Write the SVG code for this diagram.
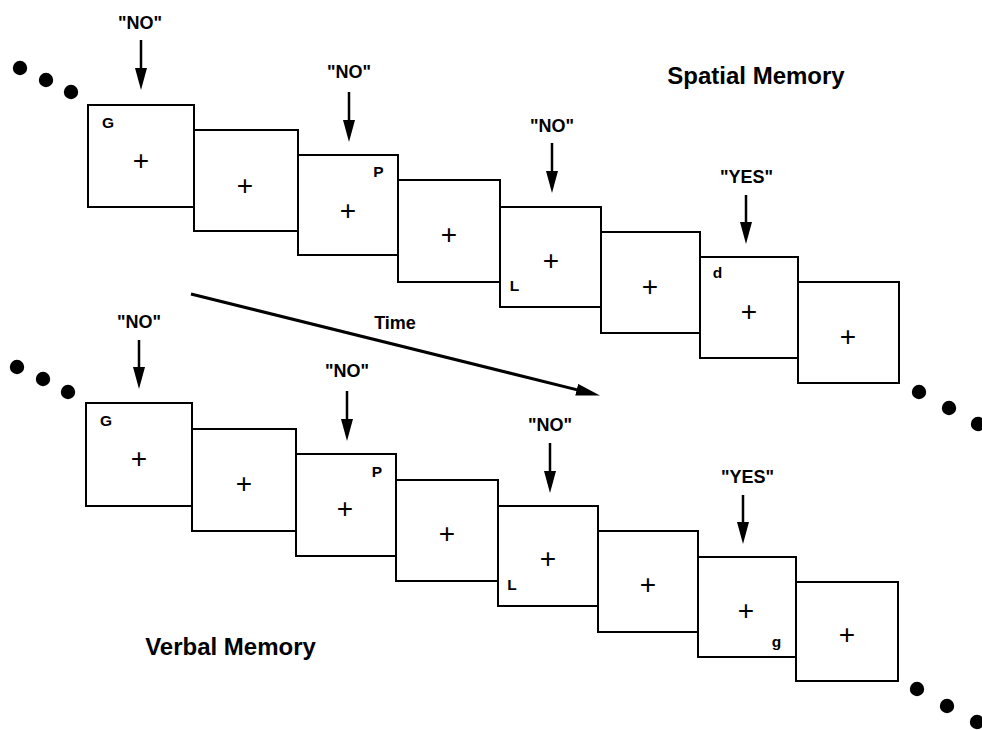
<svg xmlns="http://www.w3.org/2000/svg" width="982" height="730" viewBox="0 0 982 730">
<style>
.box{fill:#fff;stroke:#000;stroke-width:2}
.fix{font-family:"Liberation Sans",Arial,sans-serif;font-size:28px;text-anchor:middle;fill:#000}
.let{font-family:"Liberation Sans",Arial,sans-serif;font-weight:bold;font-size:15.5px;text-anchor:middle;fill:#000}
.lab{font-family:"Liberation Sans",Arial,sans-serif;font-weight:bold;font-size:18px;text-anchor:middle;fill:#000}
.title{font-family:"Liberation Sans",Arial,sans-serif;font-weight:bold;font-size:24px;text-anchor:middle;fill:#000}
.arr{stroke:#000;stroke-width:2.5;fill:none;marker-end:url(#head)}
.tarr{stroke:#000;stroke-width:3;fill:none;marker-end:url(#thead)}
.dot{fill:#000}
</style>
<defs>
<marker id="head" markerUnits="userSpaceOnUse" markerWidth="24" markerHeight="12" refX="10" refY="6" orient="auto">
<path d="M0,0 L22,6 L0,12 z" fill="#000"/>
</marker>
<marker id="thead" markerUnits="userSpaceOnUse" markerWidth="26" markerHeight="12" refX="10" refY="6" orient="auto">
<path d="M0,0 L24,6 L0,12 z" fill="#000"/>
</marker>
</defs>
<rect width="982" height="730" fill="#fff"/>

<g id="dots">
<circle class="dot" cx="20" cy="68" r="7.2"/><circle class="dot" cx="46" cy="80" r="7.2"/><circle class="dot" cx="71" cy="92" r="7.2"/>
<circle class="dot" cx="919" cy="392" r="7.2"/><circle class="dot" cx="949" cy="408" r="7.2"/><circle class="dot" cx="978" cy="424" r="7.2"/>
<circle class="dot" cx="17" cy="367" r="7.2"/><circle class="dot" cx="43" cy="379" r="7.2"/><circle class="dot" cx="68" cy="392" r="7.2"/>
<circle class="dot" cx="917" cy="689" r="7.2"/><circle class="dot" cx="947" cy="706" r="7.2"/><circle class="dot" cx="977" cy="722" r="7.2"/>
</g>

<!-- Spatial memory row -->
<g id="s1"><rect class="box" x="88" y="105" width="106" height="102"/><text class="fix" x="141" y="170">+</text><text class="let" x="108" y="127.5">G</text></g>
<g id="s2"><rect class="box" x="194" y="130" width="104" height="101"/><text class="fix" x="245" y="195">+</text></g>
<g id="s3"><rect class="box" x="298" y="155" width="100" height="100"/><text class="fix" x="348" y="220">+</text><text class="let" x="378.5" y="176.5">P</text></g>
<g id="s4"><rect class="box" x="398" y="180" width="102" height="102"/><text class="fix" x="449" y="244">+</text></g>
<g id="s5"><rect class="box" x="500" y="207" width="101" height="100"/><text class="fix" x="551" y="270">+</text><text class="let" x="514.5" y="290.5">L</text></g>
<g id="s6"><rect class="box" x="601" y="232" width="99" height="101"/><text class="fix" x="650" y="296">+</text></g>
<g id="s7"><rect class="box" x="700" y="257" width="98" height="101"/><text class="fix" x="749" y="321">+</text><text class="let" x="717.5" y="277.5">d</text></g>
<g id="s8"><rect class="box" x="798" y="282" width="101" height="101"/><text class="fix" x="848" y="346">+</text></g>

<!-- Verbal memory row -->
<g id="v1"><rect class="box" x="86" y="403" width="106" height="103"/><text class="fix" x="139" y="468">+</text><text class="let" x="106" y="425.5">G</text></g>
<g id="v2"><rect class="box" x="192" y="429" width="104" height="102"/><text class="fix" x="244" y="493">+</text></g>
<g id="v3"><rect class="box" x="296" y="454" width="100" height="102"/><text class="fix" x="345" y="518">+</text><text class="let" x="377" y="476.5">P</text></g>
<g id="v4"><rect class="box" x="396" y="480" width="102" height="101"/><text class="fix" x="447" y="543">+</text></g>
<g id="v5"><rect class="box" x="498" y="506" width="100" height="100"/><text class="fix" x="548" y="568">+</text><text class="let" x="512" y="589.5">L</text></g>
<g id="v6"><rect class="box" x="598" y="531" width="100" height="101"/><text class="fix" x="648" y="594">+</text></g>
<g id="v7"><rect class="box" x="698" y="557" width="98" height="100"/><text class="fix" x="746" y="620">+</text><text class="let" x="776.5" y="647">g</text></g>
<g id="v8"><rect class="box" x="796" y="582" width="102" height="99"/><text class="fix" x="847" y="644">+</text></g>

<g id="connectors">
<line class="arr" x1="141" y1="40" x2="141" y2="78"/>
<line class="arr" x1="349" y1="92" x2="349" y2="130"/>
<line class="arr" x1="552" y1="143" x2="552" y2="181"/>
<line class="arr" x1="746" y1="195" x2="746" y2="232"/>
<line class="arr" x1="139" y1="340" x2="139" y2="377"/>
<line class="arr" x1="347" y1="391" x2="347" y2="429"/>
<line class="arr" x1="550" y1="443" x2="550" y2="481"/>
<line class="arr" x1="743" y1="495" x2="743" y2="532"/>
<line class="tarr" x1="191" y1="294" x2="586.4" y2="392.1"/>
</g>

<g id="labels">
<text class="lab" x="140" y="29">"NO"</text>
<text class="lab" x="349" y="78">"NO"</text>
<text class="lab" x="552" y="132">"NO"</text>
<text class="lab" x="746.5" y="183">"YES"</text>
<text class="lab" x="139" y="328">"NO"</text>
<text class="lab" x="347" y="377">"NO"</text>
<text class="lab" x="550" y="431">"NO"</text>
<text class="lab" x="747.5" y="483">"YES"</text>
<text class="lab" x="395" y="329">Time</text>
<text class="title" x="756" y="84">Spatial Memory</text>
<text class="title" x="230.5" y="655">Verbal Memory</text>
</g>
</svg>
